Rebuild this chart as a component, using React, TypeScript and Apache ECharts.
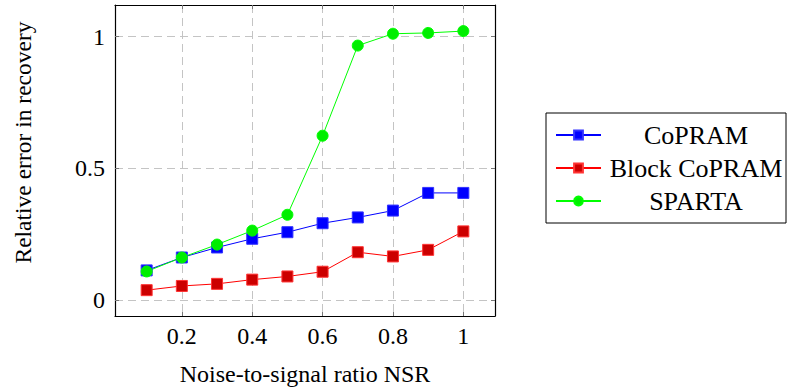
import React, { useEffect, useRef } from "react";
import * as echarts from "echarts";

const nsr = [0.1, 0.2, 0.3, 0.4, 0.5, 0.6, 0.7, 0.8, 0.9, 1.0];
const copram = [0.113, 0.162, 0.2, 0.233, 0.258, 0.292, 0.314, 0.34, 0.407, 0.407];
const blockCopram = [0.038, 0.054, 0.062, 0.078, 0.09, 0.108, 0.182, 0.166, 0.191, 0.261];
const sparta = [0.109, 0.162, 0.211, 0.264, 0.324, 0.624, 0.966, 1.011, 1.014, 1.021];
const xTicks = [0.2, 0.4, 0.6, 0.8, 1];
const yTicks = [0, 0.5, 1];
const seriesNames = ["CoPRAM", "Block CoPRAM", "SPARTA"];
const xName = "Noise-to-signal ratio NSR";
const yName = "Relative error in recovery";

const FONT = "Liberation Serif, serif";

export default function App() {
  const ref = useRef<HTMLDivElement>(null);
  useEffect(() => {
    document.body.style.margin = "0";
    const chart = echarts.init(ref.current!, undefined, { renderer: "svg" });
    const pair = (ys: number[]) => nsr.map((x, i) => [x, ys[i]]);
    const gridLine = { show: true, lineStyle: { color: "#c4c4c4", type: [8, 5], width: 1 } };
    const tickStyle = { show: true, inside: true, length: 4, lineStyle: { color: "#777", width: 1 } };
    const fmt = (v: number) => String(Math.round(v * 10) / 10);
    const axisLine = { show: true, onZero: false, lineStyle: { color: "#000", width: 1.2 } };
    const labelStyle = { fontSize: 24, color: "#000", fontFamily: FONT };
    const option: any = {
      animation: false,
      textStyle: { fontFamily: FONT },
      grid: { left: 115, top: 5, width: 380, height: 311, containLabel: false },
      legend: {
        orient: "vertical",
        left: 546,
        top: 113,
        data: seriesNames,
        borderColor: "#000",
        borderWidth: 1,
        borderRadius: 0,
        padding: [9, 0, 9, 9],
        itemGap: 7,
        itemWidth: 45,
        itemHeight: 11,
        formatter: (name: string) => `{t|${name}}`,
        textStyle: {
          fontFamily: FONT,
          fontSize: 26,
          color: "#000",
          rich: { t: { width: 180, align: "center", fontSize: 26, lineHeight: 26, fontFamily: FONT, color: "#000" } },
        },
      },
      xAxis: [
        {
          type: "value",
          min: 0.01,
          max: 1.09,
          axisLine,
          axisTick: { ...tickStyle, customValues: xTicks },
          axisLabel: { customValues: xTicks, formatter: fmt, margin: 8, ...labelStyle },
          splitLine: gridLine,
          name: xName,
          nameLocation: "middle",
          nameGap: 46,
          nameTextStyle: { fontFamily: FONT, fontSize: 24, color: "#000" },
        },
        {
          type: "value",
          position: "top",
          min: 0.01,
          max: 1.09,
          axisLine,
          axisTick: { ...tickStyle, customValues: xTicks },
          axisLabel: { show: false, customValues: xTicks },
          splitLine: { show: false },
        },
      ],
      yAxis: [
        {
          type: "value",
          min: -0.06,
          max: 1.12,
          axisLine,
          axisTick: { ...tickStyle, customValues: yTicks },
          axisLabel: { customValues: yTicks, formatter: fmt, margin: 10, ...labelStyle },
          splitLine: gridLine,
          name: yName,
          nameLocation: "middle",
          nameGap: 80,
          nameTextStyle: { fontFamily: FONT, fontSize: 23.5, color: "#000", padding: [0, 0, 0, 36] },
        },
        {
          type: "value",
          position: "right",
          min: -0.06,
          max: 1.12,
          axisLine,
          axisTick: { ...tickStyle, customValues: yTicks },
          axisLabel: { show: false, customValues: yTicks },
          splitLine: { show: false },
        },
      ],
      series: [
        {
          name: seriesNames[0],
          type: "line",
          data: pair(copram),
          symbol: "rect",
          symbolSize: 11,
          lineStyle: { color: "#0000ff", width: 1 },
          itemStyle: { color: "#0000ff", borderColor: "#3333ff", borderWidth: 1 },
        },
        {
          name: seriesNames[1],
          type: "line",
          data: pair(blockCopram),
          symbol: "rect",
          symbolSize: 11,
          lineStyle: { color: "#ff0000", width: 1 },
          itemStyle: { color: "#cc0000", borderColor: "#ff3333", borderWidth: 1 },
        },
        {
          name: seriesNames[2],
          type: "line",
          data: pair(sparta),
          symbol: "circle",
          symbolSize: 11,
          lineStyle: { color: "#00ff00", width: 1 },
          itemStyle: { color: "#00ee00", borderColor: "#00ff00", borderWidth: 1 },
        },
      ],
    };
    chart.setOption(option);
    return () => chart.dispose();
  }, []);
  return <div ref={ref} style={{ width: 788, height: 392 }} />;
}
